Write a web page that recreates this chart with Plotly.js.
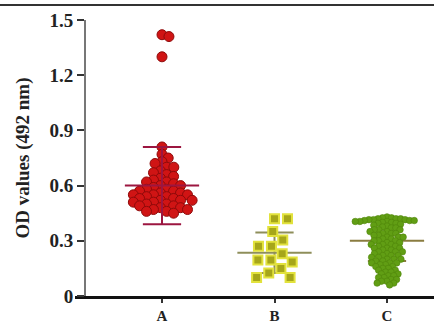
<!DOCTYPE html>
<html>
<head>
<meta charset="utf-8">
<script src="https://cdn.plot.ly/plotly-3.0.1.min.js"></script>
<style>html,body{margin:0;padding:0;background:#fff}#chart{width:434px;height:323px}</style>
</head>
<body>
<div id="chart"></div>
<script>
const categories = ['A', 'B', 'C'];
const yTicks = [0, 0.3, 0.6, 0.9, 1.2, 1.5];
const yTickText = ['0', '0.3', '0.6', '0.9', '1.2', '1.5'];
const yTitle = 'OD values (492 nm)';

const groupA = [1.42, 1.41, 1.30, 0.81, 0.77, 0.75, 0.73, 0.72, 0.70, 0.70, 0.68, 0.67, 0.66, 0.65, 0.64, 0.63, 0.62, 0.62, 0.61, 0.60, 0.60, 0.59,
  0.58, 0.58, 0.57, 0.57, 0.56, 0.56, 0.55, 0.55, 0.55, 0.54, 0.54, 0.53, 0.53, 0.52, 0.52, 0.52, 0.51, 0.51, 0.50, 0.50, 0.49, 0.49, 0.48, 0.48, 0.47, 0.47, 0.46, 0.46, 0.45];
const groupB = [0.42, 0.42, 0.35, 0.305, 0.27, 0.27, 0.23, 0.195, 0.195, 0.185, 0.15, 0.125, 0.10, 0.10];
const groupC = [0.43, 0.425, 0.425, 0.42, 0.42, 0.42, 0.415, 0.415, 0.415, 0.41, 0.41, 0.41, 0.405, 0.405, 0.405,
  0.40, 0.40, 0.395, 0.395, 0.39, 0.385, 0.38, 0.375,
  0.37, 0.37, 0.36, 0.36, 0.36, 0.35, 0.35, 0.34, 0.34, 0.34, 0.33, 0.33, 0.32, 0.32, 0.32, 0.31, 0.31, 0.30, 0.30, 0.30, 0.29, 0.29, 0.28, 0.28, 0.28,
  0.27, 0.27, 0.26, 0.26, 0.26, 0.25, 0.25, 0.24, 0.24, 0.24, 0.23, 0.23, 0.22, 0.22, 0.22, 0.21, 0.21, 0.20, 0.20, 0.20, 0.19, 0.19, 0.18, 0.18, 0.18,
  0.17, 0.17, 0.16, 0.16, 0.15, 0.15, 0.14, 0.14,
  0.13, 0.13, 0.12, 0.12, 0.11, 0.11, 0.10, 0.10, 0.09, 0.09, 0.08, 0.08, 0.07, 0.07, 0.06];
const meanVals = [0.60, 0.235, 0.30];
const sdVals = [0.21, 0.11, 0.11];

// layout geometry (px)
const plotW = 359, plotH = 276;
const xRange = [0.2267, 3.4178], yRange = [0, 1.5];
const pxPerX = plotW / (xRange[1] - xRange[0]);
const pxPerY = plotH / (yRange[1] - yRange[0]);

function swarm(values, center, d) {
  const idx = values.map((v, i) => i).sort((a, b) => values[b] - values[a]);
  const placed = [];
  const xs = new Array(values.length);
  let flip = 1;
  for (const i of idx) {
    const y = values[i] * pxPerY;
    const intervals = [];
    const cands = [0];
    for (const p of placed) {
      const dy = Math.abs(p.y - y);
      if (dy < d) {
        const w = Math.sqrt(d * d - dy * dy);
        intervals.push([p.x - w, p.x + w]);
        cands.push(p.x - w, p.x + w);
      }
    }
    cands.sort((a, b) => (Math.abs(a) - Math.abs(b)) || (flip * (a - b)));
    let chosen = 0;
    for (const c of cands) {
      if (intervals.every(iv => c <= iv[0] + 1e-6 || c >= iv[1] - 1e-6)) { chosen = c; break; }
    }
    flip = -flip;
    placed.push({x: chosen, y: y});
    xs[i] = center + chosen / pxPerX;
  }
  return xs;
}

const swarmGap = [7.2, 13, 4.6];
const groups = [groupA, groupB, groupC];
const markerStyles = [
  {symbol: 'circle', size: 10, color: '#d01414', line: {color: '#8e0a0a', width: 1}},
  {symbol: 'square', size: 9, color: '#a6a61a', line: {color: '#e2e23c', width: 2}},
  {symbol: 'circle', size: 6.5, color: '#619e14', line: {color: '#4f850a', width: 0.6}}
];
const lineColors = ['#9c1640', '#8e8e5a', '#8a7c40'];
const meanHalf = 0.33, capHalf = 0.17;

function barTrace(g) {
  const c = g + 1, m = meanVals[g], s = sdVals[g];
  return {
    type: 'scatter', mode: 'lines', hoverinfo: 'skip', showlegend: false,
    x: [c - meanHalf, c + meanHalf, null, c - capHalf, c + capHalf, null, c - capHalf, c + capHalf, null, c, c],
    y: [m, m, null, m + s, m + s, null, m - s, m - s, null, m - s, m + s],
    line: {color: lineColors[g], width: 2}
  };
}
function pointTrace(g) {
  return {
    type: 'scatter', mode: 'markers', showlegend: false, name: categories[g],
    x: swarm(groups[g], g + 1, swarmGap[g]),
    y: groups[g],
    marker: markerStyles[g]
  };
}

const data = [barTrace(1), barTrace(2), pointTrace(0), pointTrace(1), pointTrace(2), barTrace(0)];

const fontSerif = 'Liberation Serif, DejaVu Serif, serif';
const layout = {
  width: 434, height: 323,
  margin: {l: 75, r: 0, t: 20, b: 27},
  paper_bgcolor: '#ffffff', plot_bgcolor: '#ffffff',
  showlegend: false,
  xaxis: {
    range: xRange, tickvals: [1, 2, 3], ticktext: categories,
    showgrid: false, zeroline: false, showline: true, linecolor: '#111', linewidth: 3,
    ticks: 'outside', ticklen: 4, tickwidth: 2, tickcolor: '#333',
    tickfont: {family: fontSerif, size: 15, color: '#222', weight: 'bold'}
  },
  yaxis: {
    range: yRange, tickvals: yTicks, ticktext: yTickText,
    anchor: 'free', position: 10 / plotW,
    showgrid: false, zeroline: false, showline: true, linecolor: '#777', linewidth: 2,
    ticks: 'outside', ticklen: 7, tickwidth: 2, tickcolor: '#333',
    tickfont: {family: fontSerif, size: 19, color: '#222', weight: 'bold'},
    title: {text: yTitle, font: {family: fontSerif, size: 19, color: '#222', weight: 'bold'}, standoff: 14}
  },
  shapes: [
    {type: 'line', xref: 'paper', yref: 'paper', x0: -75 / plotW, x1: 1, y0: 1 + 15 / plotH, y1: 1 + 15 / plotH,
     line: {color: '#333', width: 2}}
  ]
};

Plotly.newPlot('chart', data, layout, {displayModeBar: false, staticPlot: true});
</script>
</body>
</html>
